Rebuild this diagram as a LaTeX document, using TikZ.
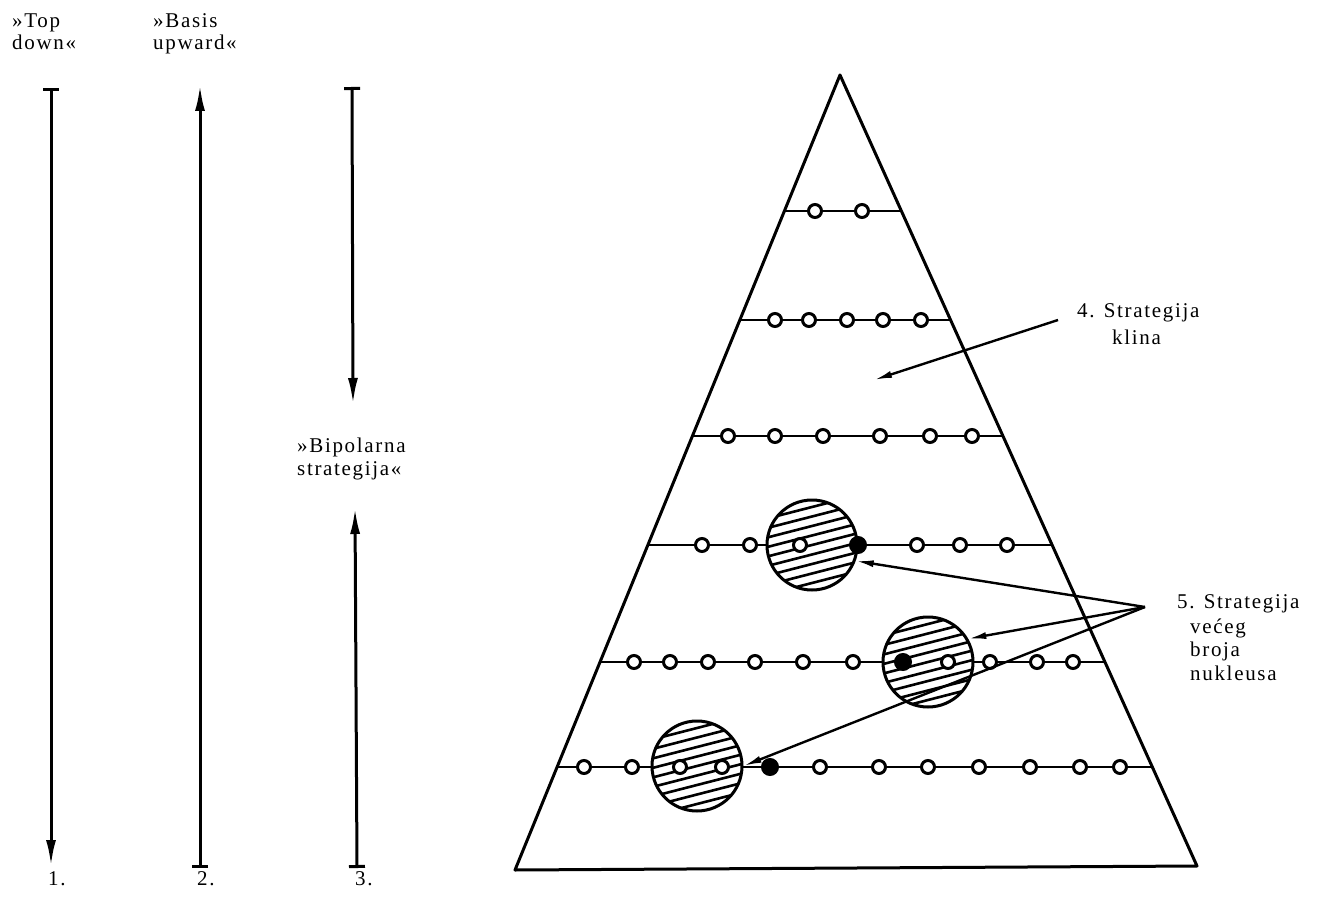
\documentclass[tikz,border=0pt]{standalone}
\usepackage{fontspec}
\setmainfont{Liberation Serif}[LetterSpace=8]
\usetikzlibrary{arrows.meta}
\begin{document}
\begin{tikzpicture}[x=1pt,y=-1pt,
  lab/.style={anchor=base west, inner sep=0, font=\fontsize{21}{24}\selectfont},
  tri/.style={line width=3pt, line join=round},
  rowline/.style={line width=2pt},
  dot/.style={circle, draw, fill=white, line width=3pt, minimum size=13pt, inner sep=0},
  ddot/.style={dot, fill=black, minimum size=15pt},
  bigc/.style={circle, draw, fill=white, line width=3pt, minimum size=90pt, inner sep=0,
    path picture={\foreach \k in {-7,...,7}{\draw[line width=2.6pt]
      ([shift={(-70,\k*9.5+18)}]path picture bounding box.center) -- ++(140,-36);}}},
  vline/.style={line width=3pt},
  ptr/.style={line width=2.4pt, -{Latex[length=18pt,width=7pt]}},
]
\useasboundingbox (0,0) rectangle (1317,901);

% left vertical arrows
\coordinate (a1t) at (51,88);  \coordinate (a1b) at (51,866);
\coordinate (a2b) at (200,868); \coordinate (a2t) at (200,85);
\coordinate (a3t) at (352,87); \coordinate (a3m) at (353,404);
\coordinate (a3b) at (357,868); \coordinate (a3n) at (355,508);
\draw[vline, {Bar[width=16pt]}-{Latex[length=26pt,width=10pt]}] (a1t) -- (a1b);
\draw[vline, {Bar[width=16pt]}-{Latex[length=26pt,width=10pt]}] (a2b) -- (a2t);
\draw[vline, {Bar[width=16pt]}-{Latex[length=26pt,width=10pt]}] (a3t) -- (a3m);
\draw[vline, {Bar[width=16pt]}-{Latex[length=26pt,width=10pt]}] (a3b) -- (a3n);

\node[lab] (tdA) at (12,28) {»Top};
\node[lab] (tdB) at (12,50) {down«};
\node[lab] (buA) at (153,28) {»Basis};
\node[lab] (buB) at (153,50) {upward«};
\node[lab] (bpA) at (297,452) {»Bipolarna};
\node[lab] (bpB) at (297,475) {strategija«};
\node[lab] (n1) at (48,885) {1.};
\node[lab] (n2) at (197,885) {2.};
\node[lab] (n3) at (355,885) {3.};

% pyramid
\coordinate (apex) at (840,75);
\coordinate (bl) at (515,870);
\coordinate (br) at (1197,866);
\draw[tri] (apex) -- (bl) -- (br) -- cycle;

% rows
\draw[rowline] (784.4,211) -- (901.4,211);
\draw[rowline] (739.8,320) -- (950.6,320);
\draw[rowline] (692.4,436) -- (1002.9,436);
\draw[rowline] (647.9,545) -- (1052.1,545);
\draw[rowline] (600,662) -- (1104.9,662);
\draw[rowline] (557.1,767) -- (1152.3,767);

% big hatched circles
\node[bigc] (B1) at (812,545) {};
\node[bigc] (B2) at (928,662) {};
\node[bigc] (B3) at (697,766) {};

% small circles
\foreach \x [count=\i] in {815,862} \node[dot] (r1c\i) at (\x,211) {};
\foreach \x [count=\i] in {775,809,847,883,921} \node[dot] (r2c\i) at (\x,320) {};
\foreach \x [count=\i] in {728,775,823,880,930,972} \node[dot] (r3c\i) at (\x,436) {};
\foreach \x [count=\i] in {702,750,800,917,960,1007} \node[dot] (r4c\i) at (\x,545) {};
\node[ddot] (r4d) at (858,545) {};
\foreach \x [count=\i] in {634,670,708,755,803,853,948,990,1037,1073} \node[dot] (r5c\i) at (\x,662) {};
\node[ddot] (r5d) at (903,662) {};
\foreach \x [count=\i] in {584,632,680,722,820,879,928,979,1030,1080,1120} \node[dot] (r6c\i) at (\x,767) {};
\node[ddot] (r6d) at (770,767) {};

% strategy 4
\coordinate (s4tail) at (1058,320);
\coordinate (s4tip) at (874,380);
\draw[ptr] (s4tail) -- (s4tip);
\node[lab] (l4a) at (1077,318) {4. Strategija};
\node[lab] (l4b) at (1112,344) {klina};

% strategy 5
\coordinate (s5) at (1145,607);
\draw[ptr] (s5) -- (B1.-20);
\draw[ptr] (s5) -- (B2.30);
\draw[ptr] (s5) -- (B3.east);
\node[lab] (l5a) at (1177,608) {5. Strategija};
\node[lab] (l5b) at (1190,633) {većeg};
\node[lab] (l5c) at (1190,656) {broja};
\node[lab] (l5d) at (1190,680) {nukleusa};
\end{tikzpicture}
\end{document}
